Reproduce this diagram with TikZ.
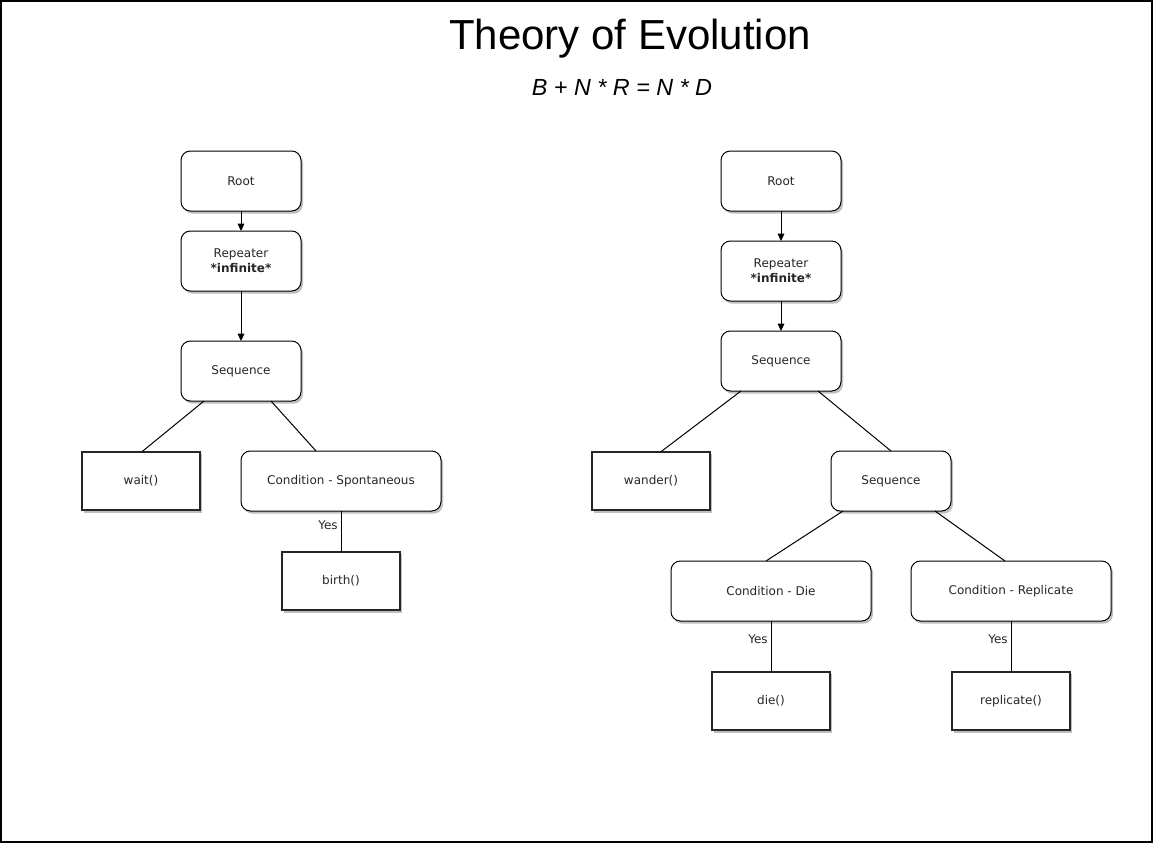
\documentclass[tikz,border=0pt]{standalone}
\usepackage{fontspec}
\setmainfont{DejaVu Sans}
\newfontfamily\arialfont{Liberation Sans}
\usetikzlibrary{arrows.meta,shadows,calc}
\begin{document}
\begin{tikzpicture}[x=0.75pt,y=-0.75pt,
  shad/.style={drop shadow={shadow xshift=1.5pt,shadow yshift=-2pt,fill=black,opacity=0.25}},
  rbox/.style={draw=black,line width=0.75pt,rounded corners=7pt,fill=white,shad,
    minimum width=90pt,minimum height=45pt,inner sep=1pt,outer sep=0pt,align=center,
    font=\fontsize{9pt}{11pt}\selectfont,text=black!85},
  abox/.style={draw=black!85,line width=1.6pt,fill=white,shad,
    minimum width=89pt,minimum height=44pt,inner sep=1pt,outer sep=0pt,align=center,
    font=\fontsize{9pt}{11pt}\selectfont,text=black!85},
  wide/.style={minimum width=150pt},
  conn/.style={draw=black,line width=0.75pt},
  arr/.style={conn,-{Triangle[length=5.5pt,width=5pt]}},
  yes/.style={font=\fontsize{9pt}{11pt}\selectfont,text=black!85,inner sep=0pt}
]
\useasboundingbox (0,0) rectangle (1153,843);
\draw[line width=0.9pt] (1,1) rectangle (1152,842);

\node[font=\arialfont\fontsize{31.5pt}{36pt}\selectfont] (title) at (630,39) {Theory of Evolution};
\node[font=\arialfont\itshape\fontsize{17.5pt}{20pt}\selectfont] (formula) at (622,87) {B + N * R = N * D};

% left tree
\node[rbox] (lroot) at (241,181) {Root};
\node[rbox] (lrep) at (241,261) {Repeater\\\textbf{*infinite*}};
\node[rbox] (lseq) at (241,371) {Sequence};
\node[abox] (wait) at (141,481) {wait()};
\node[rbox,wide] (spont) at (341,481) {Condition - Spontaneous};
\node[abox] (birth) at (341,581) {birth()};

\draw[arr] (lroot) -- (lrep);
\draw[arr] (lrep) -- (lseq);
\draw[conn] ([xshift=-27.75pt]lseq.south) -- ([xshift=0.75pt]wait.north);
\draw[conn] ([xshift=22.5pt]lseq.south) -- ([xshift=-18.75pt]spont.north);
\draw[conn] (spont) -- (birth);
\node[yes] (yes1) at (328,525) {Yes};

% right tree
\node[rbox] (rroot) at (781,181) {Root};
\node[rbox] (rrep) at (781,271) {Repeater\\\textbf{*infinite*}};
\node[rbox] (rseq) at (781,361) {Sequence};
\node[abox] (wander) at (651,481) {wander()};
\node[rbox] (rseq2) at (891,481) {Sequence};
\node[rbox,wide] (die) at (771,591) {Condition - Die};
\node[rbox,wide] (repl) at (1011,591) {Condition - Replicate};
\node[abox] (dief) at (771,701) {die()};
\node[abox] (replf) at (1011,701) {replicate()};

\draw[arr] (rroot) -- (rrep);
\draw[arr] (rrep) -- (rseq);
\draw[conn] ([xshift=-30pt]rseq.south) -- ([xshift=7.5pt]wander.north);
\draw[conn] ([xshift=27.75pt]rseq.south) -- (rseq2.north);
\draw[conn] ([xshift=-36pt]rseq2.south) -- ([xshift=-3.75pt]die.north);
\draw[conn] ([xshift=33pt]rseq2.south) -- ([xshift=-4.5pt]repl.north);
\draw[conn] (die) -- (dief);
\draw[conn] (repl) -- (replf);
\node[yes] (yes2) at (758,639) {Yes};
\node[yes] (yes3) at (998,639) {Yes};
\end{tikzpicture}
\end{document}
